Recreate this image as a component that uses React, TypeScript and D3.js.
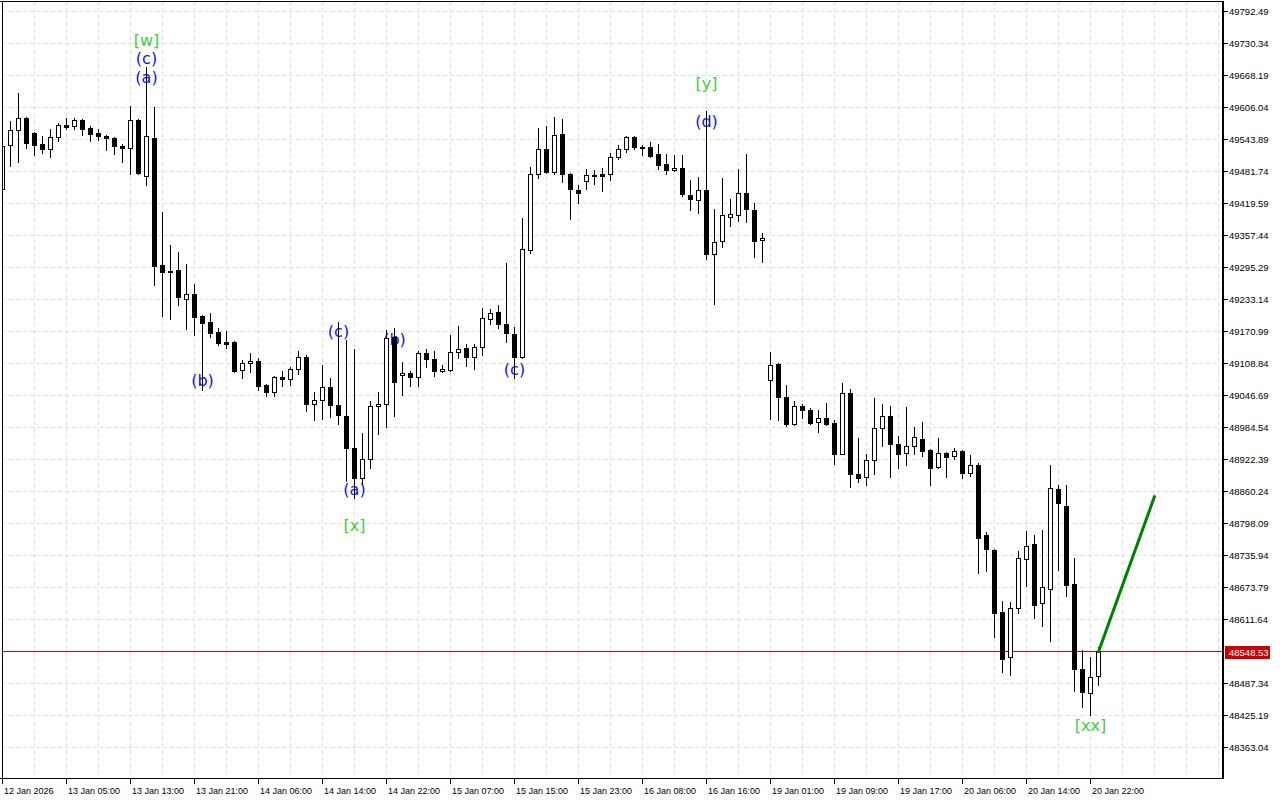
import React, { useEffect, useRef } from "react";
import * as d3 from "d3";

// ---- Data (hourly candles) ----
const opens = [49447,49532,49561,49585,49556,49534,49524,49548,49571,49569,49581,49565,49556,49550,49546,49530,49526,49581,49472,49546,49299,49288,49290,49233,49243,49200,49189,49169,49150,49150,49095,49109,49113,49066,49053,49082,49078,49097,49121,49029,49037,49062,49027,49006,48944,48886,48922,49025,49029,49159,49086,49090,49082,49128,49117,49093,49095,49130,49138,49121,49140,49194,49208,49185,49165,49121,49328,49476,49524,49480,49554,49476,49445,49462,49474,49476,49476,49509,49524,49548,49528,49528,49515,49495,49484,49488,49435,49425,49445,49321,49346,49392,49396,49439,49406,49348,49076,49107,49043,48990,49025,49018,48994,49002,48992,48932,49051,48893,48888,48921,48983,49006,48952,48934,48948,48961,48940,48907,48934,48928,48938,48895,48911,48775,48746,48625,48538,48633,48728,48757,48643,48670,48864,48831,48680,48515,48468,48501];
const highs = [49532,49579,49633,49586,49558,49550,49563,49575,49585,49585,49583,49569,49563,49552,49548,49534,49608,49582,49684,49606,49402,49338,49324,49301,49262,49202,49206,49177,49171,49152,49115,49128,49119,49068,49083,49093,49101,49132,49124,49053,49105,49080,49189,49154,49136,48973,49035,49053,49173,49177,49111,49093,49132,49136,49132,49105,49163,49181,49146,49146,49216,49214,49222,49303,49179,49391,49490,49565,49569,49587,49583,49477,49455,49486,49484,49488,49517,49532,49550,49550,49532,49538,49534,49515,49513,49513,49464,49470,49598,49408,49468,49427,49486,49515,49420,49361,49130,49108,49066,49035,49029,49022,49018,49031,48998,49070,49058,48963,48932,49041,49029,49025,48967,49023,48985,48994,48942,48963,48935,48944,48940,48930,48915,48781,48747,48647,48645,48744,48783,48775,48785,48911,48872,48872,48730,48552,48538,48557];
const lows = [49445,49491,49499,49526,49513,49517,49509,49540,49563,49563,49552,49540,49542,49522,49515,49499,49476,49476,49455,49260,49200,49194,49222,49175,49163,49056,49159,49144,49138,49091,49080,49091,49056,49045,49045,49064,49066,49088,49016,48998,49000,49004,48990,48880,48847,48874,48905,48971,48985,49006,49047,49064,49064,49101,49084,49091,49093,49119,49103,49097,49124,49185,49177,49150,49080,49119,49323,49468,49478,49476,49460,49389,49420,49447,49456,49443,49464,49505,49519,49524,49513,49509,49486,49476,49482,49433,49406,49400,49311,49223,49334,49375,49385,49383,49315,49305,49000,48998,48987,48989,49002,48990,48975,48989,48913,48931,48868,48878,48872,48893,48948,48888,48905,48911,48932,48928,48872,48905,48888,48922,48886,48889,48701,48705,48577,48509,48503,48623,48676,48614,48598,48569,48707,48656,48472,48441,48425,48484];
const closes = [49530,49561,49585,49536,49532,49524,49548,49571,49567,49581,49563,49554,49550,49546,49530,49526,49581,49478,49550,49297,49286,49285,49237,49243,49198,49187,49167,49148,49146,49093,49109,49113,49064,49053,49082,49078,49097,49121,49029,49037,49062,49027,49008,48944,48886,48922,49025,49029,49157,49072,49090,49082,49128,49117,49093,49097,49130,49136,49121,49140,49196,49206,49185,49167,49121,49330,49476,49524,49480,49552,49476,49447,49439,49474,49472,49472,49509,49524,49548,49528,49526,49511,49493,49484,49488,49437,49427,49445,49321,49344,49396,49398,49439,49408,49346,49352,49105,49043,48990,49025,49018,48992,49002,48990,48932,49051,48893,48886,48921,48983,49006,48952,48932,48948,48965,48938,48905,48934,48926,48938,48895,48911,48769,48748,48623,48534,48633,48730,48754,48639,48674,48866,48837,48678,48515,48470,48499,48548.53];

const timeLabelIdx = [0,8,16,24,32,40,48,56,64,72,80,88,96,104,112,120,128,136];
const timeLabels = ["12 Jan 2026","13 Jan 05:00","13 Jan 13:00","13 Jan 21:00","14 Jan 06:00","14 Jan 14:00","14 Jan 22:00","15 Jan 07:00","15 Jan 15:00","15 Jan 23:00","16 Jan 08:00","16 Jan 16:00","19 Jan 01:00","19 Jan 09:00","19 Jan 17:00","20 Jan 06:00","20 Jan 14:00","20 Jan 22:00"];

const priceTicks = [49792.49,49730.34,49668.19,49606.04,49543.89,49481.74,49419.59,49357.44,49295.29,49233.14,49170.99,49108.84,49046.69,48984.54,48922.39,48860.24,48798.09,48735.94,48673.79,48611.64,48549.49,48487.34,48425.19,48363.04];
const priceTickLabels = ["49792.49","49730.34","49668.19","49606.04","49543.89","49481.74","49419.59","49357.44","49295.29","49233.14","49170.99","49108.84","49046.69","48984.54","48922.39","48860.24","48798.09","48735.94","48673.79","48611.64","48549.49","48487.34","48425.19","48363.04"];

const bidPrice = 48548.53;
const bidLabel = "48548.53";

const waveTexts = ["[w]","(c)","(a)","(b)","(c)","(a)","[x]","(b)","(c)","[y]","(d)","[xx]"];
const waveIdx = [18,18,18,25,42,44,44,49,64,88,88,136];
const wavePrices = [49736,49701,49664,49076,49171,48864,48794,49155,49097,49653,49579,48406];
const waveKinds = ["major","minor","minor","minor","minor","minor","major","minor","minor","major","minor","major"];

const projIdx = [137,144];
const projPrices = [48548.53,48850];

const W = 1280, H = 800;
const LEFT = 2, RIGHT = 1222, TOP = 1, BOTTOM = 778;

export default function App() {
  const ref = useRef<SVGSVGElement | null>(null);

  useEffect(() => {
    const svg = d3.select(ref.current);
    svg.selectAll("*").remove();

    const x = d3.scaleLinear().domain([0, 152.5]).range([2.5, 1222.5]);
    const y = d3.scaleLinear().domain([48363.04, 49792.49]).range([747.3, 11.3]);
    const py = (v: number) => Math.floor(y(v)) + 0.5;

    svg.append("rect").attr("width", W).attr("height", H).attr("fill", "#ffffff");

    const defs = svg.append("defs");
    defs.append("clipPath").attr("id", "plotclip")
      .append("rect").attr("x", LEFT).attr("y", TOP).attr("width", RIGHT - LEFT).attr("height", BOTTOM - TOP);

    const plot = svg.append("g").attr("clip-path", "url(#plotclip)");

    // grid
    const gridIdx = d3.range(0, 153, 4);
    plot.selectAll("line.vg").data(gridIdx).join("line")
      .attr("x1", (d) => x(d)).attr("x2", (d) => x(d))
      .attr("y1", TOP).attr("y2", BOTTOM)
      .attr("stroke", "#dedede").attr("stroke-width", 1).attr("stroke-dasharray", "4,3");
    plot.selectAll("line.hg").data(priceTicks).join("line")
      .attr("x1", LEFT).attr("x2", RIGHT)
      .attr("y1", (d) => py(d)).attr("y2", (d) => py(d))
      .attr("stroke", "#dedede").attr("stroke-width", 1).attr("stroke-dasharray", "4,3");

    // bid line
    plot.append("line")
      .attr("x1", LEFT).attr("x2", RIGHT)
      .attr("y1", py(bidPrice)).attr("y2", py(bidPrice))
      .attr("stroke", "#b80d0d").attr("stroke-width", 1);

    // wave labels (under candles)
    plot.selectAll("text.wave").data(waveTexts).join("text")
      .attr("x", (_d, i) => x(waveIdx[i]))
      .attr("y", (_d, i) => y(wavePrices[i]))
      .attr("text-anchor", "middle")
      .attr("dominant-baseline", "central")
      .attr("font-family", "DejaVu Sans, sans-serif")
      .attr("font-size", 16)
      .attr("fill", (_d, i) => (waveKinds[i] === "major" ? "#3ccf3c" : "#1010ff"))
      .text((d) => d);

    // candles
    const idx = d3.range(opens.length);
    const cg = plot.append("g");
    cg.selectAll("line.wick").data(idx).join("line")
      .attr("x1", (i) => x(i)).attr("x2", (i) => x(i))
      .attr("y1", (i) => py(highs[i]) - 0.5).attr("y2", (i) => py(lows[i]) + 0.5)
      .attr("stroke", "#000").attr("stroke-width", 1);
    cg.selectAll("rect.body").data(idx).join("rect")
      .attr("x", (i) => x(i) - 2)
      .attr("width", 4)
      .attr("y", (i) => Math.min(py(opens[i]), py(closes[i])))
      .attr("height", (i) => Math.max(0.01, Math.abs(py(opens[i]) - py(closes[i]))))
      .attr("fill", (i) => (closes[i] >= opens[i] ? "#ffffff" : "#000000"))
      .attr("stroke", "#000").attr("stroke-width", 1);

    // projection line
    plot.append("line")
      .attr("x1", x(projIdx[0])).attr("y1", y(projPrices[0]))
      .attr("x2", x(projIdx[1])).attr("y2", y(projPrices[1]))
      .attr("stroke", "#008000").attr("stroke-width", 3).attr("stroke-linecap", "round");

    // borders
    svg.append("line").attr("x1", 0).attr("x2", RIGHT).attr("y1", 1.5).attr("y2", 1.5).attr("stroke", "#000");
    svg.append("line").attr("x1", 0).attr("x2", RIGHT + 2).attr("y1", BOTTOM + 0.5).attr("y2", BOTTOM + 0.5).attr("stroke", "#000");
    svg.append("line").attr("x1", 2.5).attr("x2", 2.5).attr("y1", 1).attr("y2", BOTTOM).attr("stroke", "#000");
    svg.append("rect").attr("x", RIGHT).attr("y", 1).attr("width", 2).attr("height", BOTTOM).attr("fill", "#000");

    // right axis
    const yBid = y(bidPrice);
    const ra = svg.append("g");
    priceTicks.forEach((p, k) => {
      const yy = py(p);
      if (Math.abs(y(p) - yBid) < 8) return;
      ra.append("line").attr("x1", RIGHT + 2).attr("x2", RIGHT + 6).attr("y1", yy).attr("y2", yy).attr("stroke", "#000");
      ra.append("text").attr("x", RIGHT + 7).attr("y", yy)
        .attr("dominant-baseline", "central")
        .attr("font-family", "Liberation Sans, Arial, sans-serif").attr("font-size", 9.5)
        .attr("fill", "#000").text(priceTickLabels[k]);
    });
    ra.append("rect").attr("x", RIGHT + 3).attr("y", Math.round(yBid) - 6).attr("width", 45).attr("height", 13).attr("fill", "#cc0000");
    ra.append("text").attr("x", RIGHT + 7).attr("y", Math.round(yBid) + 0.5)
      .attr("dominant-baseline", "central")
      .attr("font-family", "Liberation Sans, Arial, sans-serif").attr("font-size", 9.5)
      .attr("fill", "#ffffff").text(bidLabel);

    // bottom axis
    const ba = svg.append("g");
    timeLabelIdx.forEach((ti, k) => {
      const xx = Math.floor(x(ti)) + 0.5;
      ba.append("line").attr("x1", xx).attr("x2", xx).attr("y1", BOTTOM).attr("y2", BOTTOM + 6).attr("stroke", "#000");
      ba.append("text").attr("x", xx + 1.5).attr("y", 791)
        .attr("dominant-baseline", "central")
        .attr("font-family", "Liberation Sans, Arial, sans-serif").attr("font-size", 9)
        .attr("fill", "#000").text(timeLabels[k]);
    });
  }, []);

  return (
    <svg ref={ref} width={W} height={H}
      style={{ position: "absolute", left: 0, top: 0, display: "block" }} />
  );
}
